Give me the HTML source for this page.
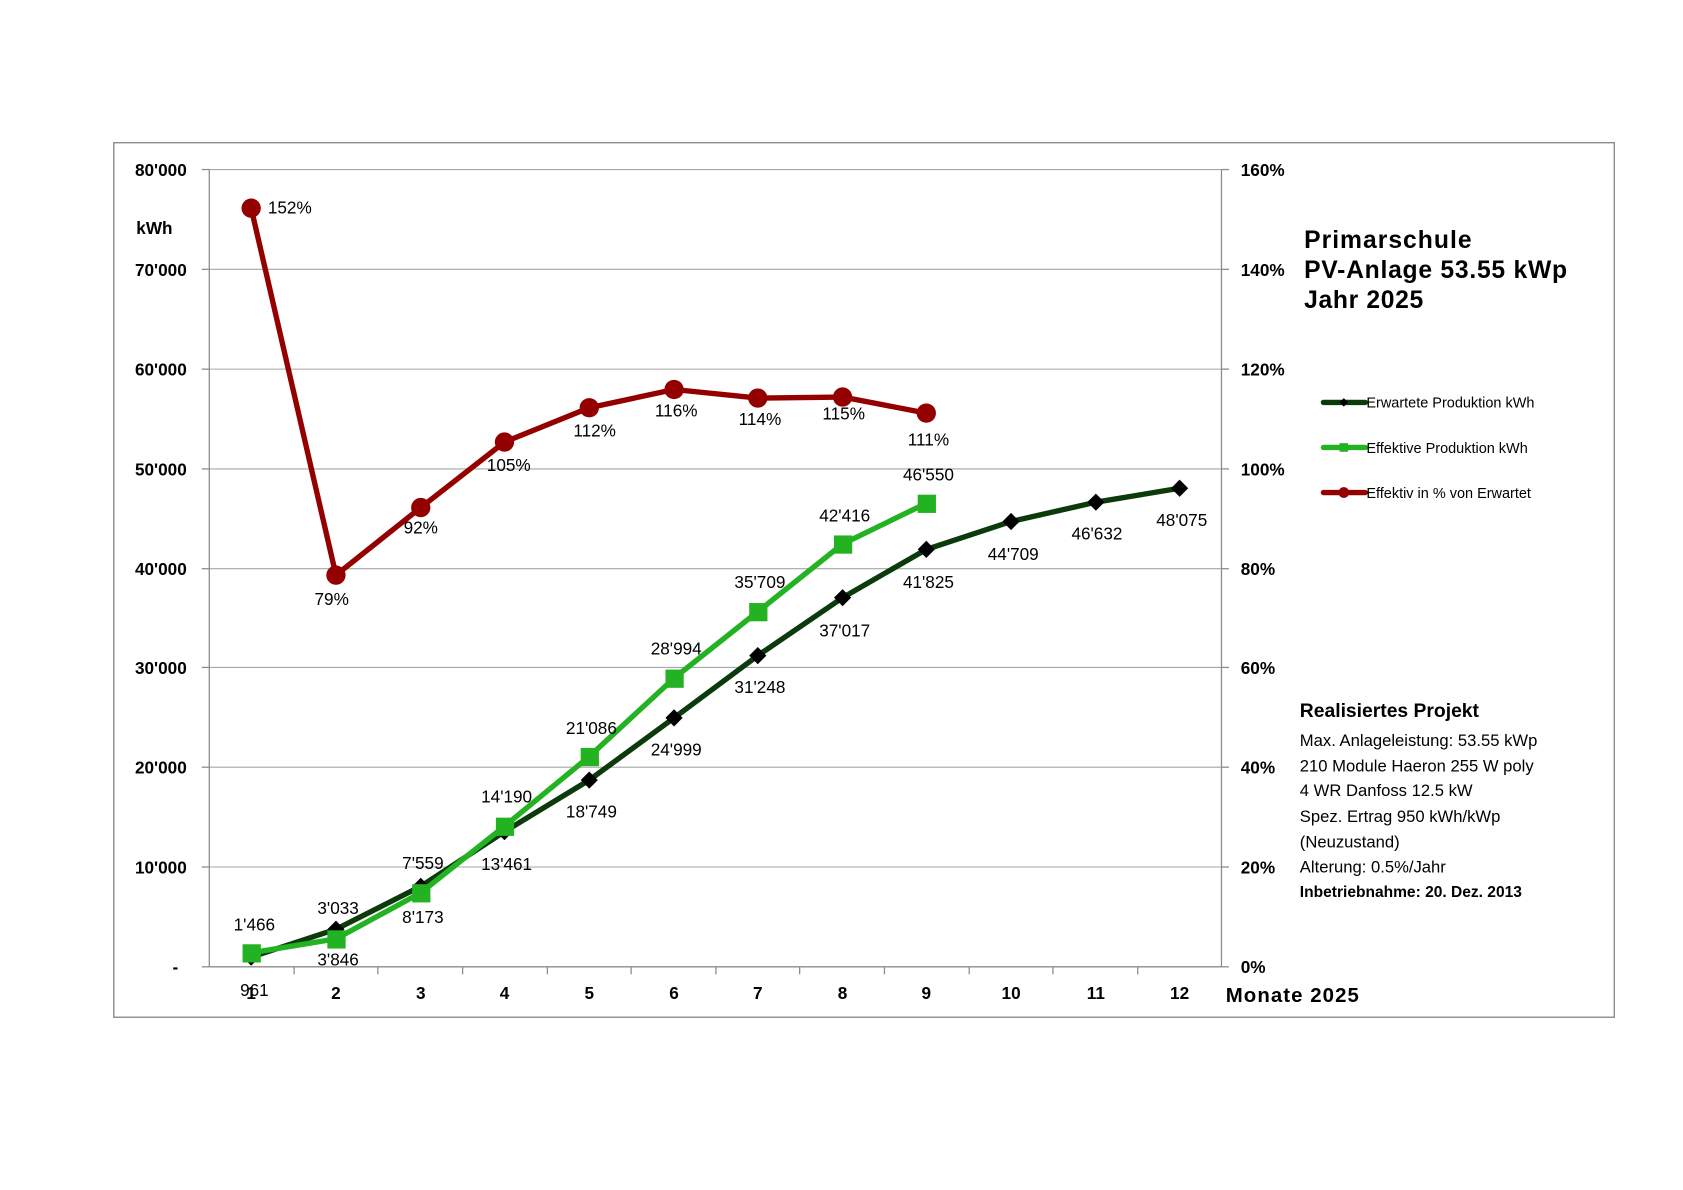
<!DOCTYPE html>
<html><head><meta charset="utf-8"><style>html,body{margin:0;padding:0;background:#fff}svg{display:block}</style></head>
<body>
<svg width="1683" height="1190" viewBox="0 0 1568 1109" preserveAspectRatio="none" xmlns="http://www.w3.org/2000/svg" font-family="Liberation Sans, sans-serif">
<rect width="1568" height="1109" fill="#fff"/>
<rect x="106" y="133" width="1398" height="815" fill="#fff" stroke="#8c8c8c" stroke-width="1.3"/>
<g stroke="#a6a6a6" stroke-width="1">
<line x1="195" y1="158" x2="1138" y2="158"/><line x1="195" y1="251" x2="1138" y2="251"/>
<line x1="195" y1="344" x2="1138" y2="344"/><line x1="195" y1="437" x2="1138" y2="437"/>
<line x1="195" y1="530" x2="1138" y2="530"/><line x1="195" y1="622" x2="1138" y2="622"/>
<line x1="195" y1="715" x2="1138" y2="715"/><line x1="195" y1="808" x2="1138" y2="808"/>
</g>
<g stroke="#8c8c8c" stroke-width="1.2">
<line x1="195" y1="158" x2="195" y2="901"/><line x1="1138" y1="158" x2="1138" y2="901"/>
<line x1="195" y1="901" x2="1138" y2="901"/>
<line x1="188" y1="158" x2="195" y2="158"/><line x1="188" y1="251" x2="195" y2="251"/><line x1="188" y1="344" x2="195" y2="344"/><line x1="188" y1="437" x2="195" y2="437"/><line x1="188" y1="530" x2="195" y2="530"/><line x1="188" y1="622" x2="195" y2="622"/><line x1="188" y1="715" x2="195" y2="715"/><line x1="188" y1="808" x2="195" y2="808"/><line x1="188" y1="901" x2="195" y2="901"/>
<line x1="1138" y1="158" x2="1145" y2="158"/><line x1="1138" y1="251" x2="1145" y2="251"/><line x1="1138" y1="344" x2="1145" y2="344"/><line x1="1138" y1="437" x2="1145" y2="437"/><line x1="1138" y1="530" x2="1145" y2="530"/><line x1="1138" y1="622" x2="1145" y2="622"/><line x1="1138" y1="715" x2="1145" y2="715"/><line x1="1138" y1="808" x2="1145" y2="808"/><line x1="1138" y1="901" x2="1145" y2="901"/>
<line x1="274" y1="901" x2="274" y2="908"/><line x1="352" y1="901" x2="352" y2="908"/><line x1="431" y1="901" x2="431" y2="908"/><line x1="510" y1="901" x2="510" y2="908"/><line x1="588" y1="901" x2="588" y2="908"/><line x1="667" y1="901" x2="667" y2="908"/><line x1="745" y1="901" x2="745" y2="908"/><line x1="824" y1="901" x2="824" y2="908"/><line x1="903" y1="901" x2="903" y2="908"/><line x1="981" y1="901" x2="981" y2="908"/><line x1="1060" y1="901" x2="1060" y2="908"/>
</g>
<g font-weight="bold" font-size="16" text-anchor="end" fill="#000">
<text x="174" y="164">80'000</text><text x="174" y="257">70'000</text><text x="174" y="350">60'000</text><text x="174" y="443">50'000</text><text x="174" y="536">40'000</text><text x="174" y="628">30'000</text><text x="174" y="721">20'000</text><text x="174" y="814">10'000</text><text x="166" y="907">-</text>
</g>
<text x="127" y="218" font-weight="bold" font-size="16">kWh</text>
<g font-weight="bold" font-size="16" fill="#000">
<text x="1156" y="164">160%</text><text x="1156" y="257">140%</text><text x="1156" y="350">120%</text><text x="1156" y="443">100%</text><text x="1156" y="536">80%</text><text x="1156" y="628">60%</text><text x="1156" y="721">40%</text><text x="1156" y="814">20%</text><text x="1156" y="907">0%</text>
</g>
<g font-weight="bold" font-size="16" text-anchor="middle">
<text x="234" y="931">1</text><text x="313" y="931">2</text><text x="392" y="931">3</text><text x="470" y="931">4</text><text x="549" y="931">5</text><text x="628" y="931">6</text><text x="706" y="931">7</text><text x="785" y="931">8</text><text x="863" y="931">9</text><text x="942" y="931">10</text><text x="1021" y="931">11</text><text x="1099" y="931">12</text>
</g>
<text x="1142" y="934" font-weight="bold" font-size="19" textLength="124">Monate 2025</text>
<polyline fill="none" stroke="#940000" stroke-width="5" stroke-linejoin="round" points="234,194 313,536 392,473 470,412 549,380 628,363 706,371 785,370 863,385"/>
<g fill="#940000">
<circle cx="234" cy="194" r="9"/><circle cx="313" cy="536" r="9"/><circle cx="392" cy="473" r="9"/><circle cx="470" cy="412" r="9"/><circle cx="549" cy="380" r="9"/><circle cx="628" cy="363" r="9"/><circle cx="706" cy="371" r="9"/><circle cx="785" cy="370" r="9"/><circle cx="863" cy="385" r="9"/>
</g>
<polyline fill="none" stroke="#0b3a0b" stroke-width="5" stroke-linejoin="round" points="234,892 313,866 392,826 470,775 549,727 628,669 706,611 785,557 863,512 942,486 1021,468 1099,455"/>
<g fill="#000">
<path d="M234,884l8,8l-8,8l-8,-8z"/><path d="M313,858l8,8l-8,8l-8,-8z"/><path d="M392,818l8,8l-8,8l-8,-8z"/><path d="M470,767l8,8l-8,8l-8,-8z"/><path d="M549,719l8,8l-8,8l-8,-8z"/><path d="M628,661l8,8l-8,8l-8,-8z"/><path d="M706,603l8,8l-8,8l-8,-8z"/><path d="M785,549l8,8l-8,8l-8,-8z"/><path d="M863,504l8,8l-8,8l-8,-8z"/><path d="M942,478l8,8l-8,8l-8,-8z"/><path d="M1021,460l8,8l-8,8l-8,-8z"/><path d="M1099,447l8,8l-8,8l-8,-8z"/>
</g>
<polyline fill="none" stroke="#22b222" stroke-width="5" stroke-linejoin="round" points="234,888 313,875 392,832 470,770 549,705 628,632 706,570 785,507 863,469"/>
<g fill="#22b222">
<rect x="226" y="880" width="17" height="17"/><rect x="305" y="867" width="17" height="17"/><rect x="384" y="824" width="17" height="17"/><rect x="462" y="762" width="17" height="17"/><rect x="541" y="697" width="17" height="17"/><rect x="620" y="624" width="17" height="17"/><rect x="698" y="562" width="17" height="17"/><rect x="777" y="499" width="17" height="17"/><rect x="855" y="461" width="17" height="17"/>
</g>
<g font-size="16" fill="#000" text-anchor="middle">
<text x="270" y="199">152%</text><text x="309" y="564">79%</text><text x="392" y="497">92%</text><text x="474" y="439">105%</text><text x="554" y="407">112%</text><text x="630" y="388">116%</text><text x="708" y="396">114%</text><text x="786" y="391">115%</text><text x="865" y="415">111%</text>
<text x="237" y="867">1'466</text><text x="237" y="928">961</text><text x="315" y="852">3'033</text><text x="315" y="900">3'846</text><text x="394" y="810">7'559</text><text x="394" y="860">8'173</text><text x="472" y="748">14'190</text><text x="472" y="811">13'461</text><text x="551" y="684">21'086</text><text x="551" y="762">18'749</text><text x="630" y="610">28'994</text><text x="630" y="704">24'999</text><text x="708" y="548">35'709</text><text x="708" y="646">31'248</text><text x="787" y="486">42'416</text><text x="787" y="593">37'017</text><text x="865" y="448">46'550</text><text x="865" y="548">41'825</text><text x="944" y="522">44'709</text><text x="1022" y="503">46'632</text><text x="1101" y="490">48'075</text>
</g>
<g font-weight="bold" font-size="23" fill="#000">
<text x="1215" y="231" textLength="156">Primarschule</text><text x="1215" y="259" textLength="245">PV-Anlage 53.55 kWp</text><text x="1215" y="287" textLength="111">Jahr 2025</text>
</g>
<g stroke-width="5" stroke-linecap="round">
<line x1="1233" y1="375" x2="1272" y2="375" stroke="#0b3a0b"/><line x1="1233" y1="417" x2="1272" y2="417" stroke="#22b222"/><line x1="1233" y1="459" x2="1272" y2="459" stroke="#940000"/>
</g>
<path d="M1252,371l4,4l-4,4l-4,-4z" fill="#000"/><rect x="1248" y="413" width="8" height="8" fill="#22b222"/><circle cx="1252" cy="459" r="5" fill="#940000"/>
<g font-size="13.5" fill="#000">
<text x="1273" y="380">Erwartete Produktion kWh</text><text x="1273" y="422">Effektive Produktion kWh</text><text x="1273" y="464">Effektiv in % von Erwartet</text>
</g>
<text x="1211" y="668" font-weight="bold" font-size="18">Realisiertes Projekt</text>
<g font-size="15.5" fill="#000">
<text x="1211" y="695">Max. Anlageleistung: 53.55 kWp</text><text x="1211" y="719">210 Module Haeron 255 W poly</text><text x="1211" y="742">4 WR Danfoss 12.5 kW</text><text x="1211" y="766">Spez. Ertrag 950 kWh/kWp</text><text x="1211" y="790">(Neuzustand)</text><text x="1211" y="813">Alterung: 0.5%/Jahr</text>
<text x="1211" y="836" font-weight="bold" font-size="14.5">Inbetriebnahme: 20. Dez. 2013</text>
</g>
</svg>
</body></html>
